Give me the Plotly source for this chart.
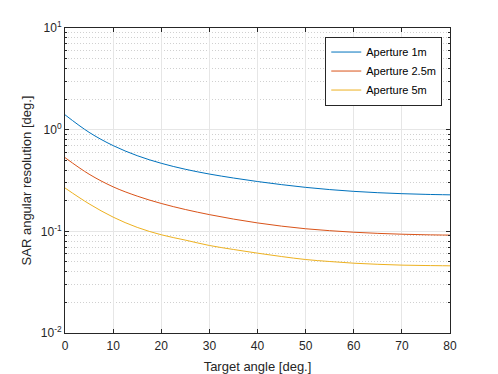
import plotly.graph_objects as go

angle = [0, 5, 10, 15, 20, 25, 30, 35, 40, 45, 50, 55, 60, 65, 70, 75, 80]
aperture_1m = [1.40, 0.942, 0.697, 0.555, 0.467, 0.408, 0.366, 0.3346, 0.309, 0.288,
               0.2707, 0.2574, 0.2473, 0.2399, 0.2346, 0.2310, 0.2286]
aperture_2_5m = [0.531, 0.365, 0.274, 0.222, 0.188, 0.164, 0.146, 0.132, 0.121, 0.1125,
                 0.106, 0.1015, 0.098, 0.0955, 0.0937, 0.0925, 0.0918]
aperture_5m = [0.267, 0.1865, 0.138, 0.1094, 0.0925, 0.082, 0.0726, 0.0663, 0.061, 0.0565,
               0.0528, 0.0505, 0.0486, 0.0474, 0.0465, 0.0461, 0.0458]
names = ["Aperture 1m", "Aperture 2.5m", "Aperture 5m"]
colors = ["#0072BD", "#D95319", "#EDB120"]
x_ticks = [0, 10, 20, 30, 40, 50, 60, 70, 80]
y_ticks = [0.01, 0.1, 1, 10]
y_tick_text = ["10<sup>-2</sup>", "10<sup>-1</sup>", "10<sup>0</sup>", "10<sup>1</sup>"]

fig = go.Figure()
for name, ys, c in zip(names, [aperture_1m, aperture_2_5m, aperture_5m], colors):
    fig.add_trace(go.Scatter(x=angle, y=ys, mode="lines", name=name,
                             line=dict(color=c, width=1, shape="spline", smoothing=1.0)))

axis_col = "#262626"
# page body has an 8px margin, so the figure is sized to the visible area
fig.update_layout(
    width=490, height=366,
    margin=dict(l=56.5, r=48, t=20, b=41),
    paper_bgcolor="white", plot_bgcolor="white",
    font=dict(family="Liberation Sans, Arial, sans-serif", size=12, color=axis_col),
    showlegend=True,
    legend=dict(x=0.676, y=0.972, xanchor="left", yanchor="top",
                bordercolor=axis_col, borderwidth=1, bgcolor="white",
                font=dict(size=11, color="#000000"),
                tracegroupgap=0, itemwidth=30),
)
fig.update_xaxes(
    range=[0, 80], tickvals=x_ticks, ticks="inside", ticklen=4, tickcolor=axis_col,
    showline=True, linecolor=axis_col, linewidth=1, mirror="ticks",
    showgrid=True, gridcolor="#e6e6e6", gridwidth=1, zeroline=False,
    title=dict(text="Target angle [deg.]", font=dict(size=13), standoff=9),
    tickfont=dict(size=12), ticklabelstandoff=2, automargin=False,
)
fig.update_yaxes(
    type="log", range=[-2, 1], tickvals=y_ticks, ticktext=y_tick_text,
    ticks="inside", ticklen=4, tickcolor=axis_col,
    showline=True, linecolor=axis_col, linewidth=1, mirror="ticks",
    showgrid=True, gridcolor="#e6e6e6", gridwidth=1, zeroline=False,
    minor=dict(ticks="inside", ticklen=2, tickcolor=axis_col, dtick="D1",
               showgrid=True, griddash="1px,2px", gridcolor="#d0d0d0", gridwidth=1),
    title=dict(text="SAR angular resolution [deg.]", font=dict(size=13), standoff=6),
    tickfont=dict(size=12), automargin=False,
)
fig.write_html("out.html")
